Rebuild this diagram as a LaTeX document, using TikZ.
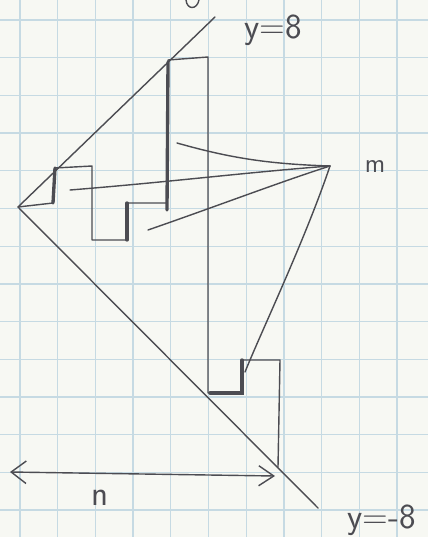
\documentclass[tikz,border=0pt]{standalone}
\usetikzlibrary{arrows.meta}
\definecolor{grafite}{HTML}{4C4C52}
\definecolor{papel}{HTML}{F7F8F3}
\definecolor{quadro}{HTML}{C6DAE3}

\begin{document}
\begin{tikzpicture}[x=0.02cm,y=-0.02cm,font=\sffamily,
  traco/.style={draw=grafite, line width=0.8pt, line cap=round, line join=round},
  grosso/.style={draw=grafite, line width=1.9pt, line cap=round},
  rotulo/.style={text=grafite, inner sep=0pt, font=\sffamily\fontsize{20}{22}\selectfont}]
% papel quadriculado
\fill[papel] (0,0) rectangle (428,537);
\useasboundingbox (0,0) rectangle (428,537);
\foreach \k in {0,...,10} \draw[quadro, line width=0.7pt] ({20+37.7*\k},0) -- ({20+37.7*\k},537);
\foreach \k in {0,...,13} \draw[quadro, line width=0.7pt] (0,{20+37.7*\k}) -- (428,{20+37.7*\k});
% resto de uma letra cortada no alto
\draw[traco] (186,0) .. controls (187,10) and (197,10) .. (199,0);
% retas y=8 e y=-8
\coordinate (v) at (18,207);
\coordinate (topo) at (215,17);
\coordinate (fundo) at (318,508);
\draw[traco] (topo) -- (v) -- (fundo);
\node[rotulo] (ymais) at (273,30) {y=8};
\node[rotulo] (ymenos) at (382,520) {y=-8};
% escada
\draw[traco] (v) -- (53,203) -- (55,168) -- (92,166) -- (92,240) -- (127,240) -- (127,203)
  -- (167,203) -- (168,60) -- (208,57) -- (208,393) -- (242,393) -- (242,360) -- (280,360) -- (278,467);
\draw[grosso] (53,203) -- (55,168);
\draw[grosso] (127,240) -- (127,203);
\draw[grosso] (167,210) -- (168,62);
\draw[grosso] (210,393) -- (242,393) -- (242,360);
% curvas ate m
\coordinate (mm) at (330,166);
\node[rotulo, font=\sffamily\fontsize{15}{17}\selectfont] (m) at (375,167) {m};
\draw[traco] (177,143) .. controls (230,158) and (268,164) .. (mm);
\draw[traco] (70,190) .. controls (170,182) and (250,172) .. (mm);
\draw[traco] (148,230) .. controls (220,205) and (280,182) .. (mm);
\draw[traco] (mm) .. controls (305,240) and (262,330) .. (245,372);
% largura n
\coordinate (na) at (10,472);
\coordinate (nb) at (275,476);
\draw[traco, {Straight Barb[length=3mm,width=4.5mm]}-{Straight Barb[length=3mm,width=4mm]}] (na) -- (nb);
\node[rotulo] (n) at (100,498) {n};
\end{tikzpicture}
\end{document}
